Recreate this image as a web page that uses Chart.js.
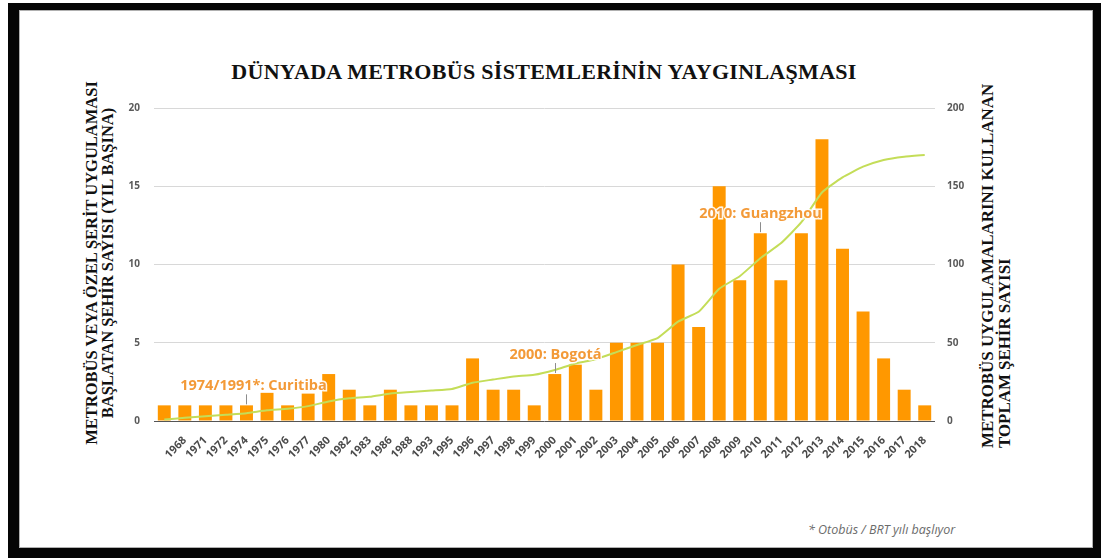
<!DOCTYPE html>
<html>
<head>
<meta charset="utf-8">
<script src="https://cdn.jsdelivr.net/npm/chart.js@4/dist/chart.umd.min.js"></script>
<style>
body{margin:0;width:1101px;height:558px;background:#fff;position:relative;overflow:hidden}
#frame{position:absolute;left:8px;top:3px;width:1093px;height:555px;background:#050505}
#panel{position:absolute;left:19px;top:10px;width:1074px;height:538px;background:#fff;box-shadow:inset 0 0 0 1px #b0b0b0}
#title{position:absolute;left:0;width:1088px;top:58px;text-align:center;font:bold 22px "Liberation Serif",serif;color:#111;line-height:28px;letter-spacing:0.3px}
.axt{position:absolute;width:420px;font:bold 16.5px "Liberation Serif",serif;color:#111;transform:rotate(-90deg);white-space:nowrap}
#ltitle{left:-110px;top:247px;height:32px;line-height:16px;text-align:center}
#rtitle{left:786px;top:221px;height:34px;line-height:17px;text-align:left;font-size:16.9px}
#note{position:absolute;left:808px;top:521px;font:italic 12.5px "Open Sans",sans-serif;color:#6b6b6b}
#c{position:absolute;left:0;top:0}
</style>
</head>
<body>
<div id="frame"></div>
<div id="panel"></div>
<div id="title">DÜNYADA METROBÜS SİSTEMLERİNİN YAYGINLAŞMASI</div>
<div class="axt" id="ltitle">METROBÜS VEYA ÖZEL ŞERİT UYGULAMASI<br>BAŞLATAN ŞEHİR SAYISI (YIL BAŞINA)</div>
<div class="axt" id="rtitle">METROBÜS UYGULAMALARINI KULLANAN<br>TOPLAM ŞEHİR SAYISI</div>
<div id="note">* Otobüs / BRT yılı başlıyor</div>
<canvas id="c" width="1101" height="558"></canvas>
<script>
// yil etiketleri (ilk cubugun etiketi yok)
const years = ['', '1968', '1971', '1972', '1974', '1975', '1976', '1977', '1980', '1982', '1983',
  '1986', '1988', '1993', '1995', '1996', '1997', '1998', '1999', '2000', '2001', '2002', '2003',
  '2004', '2005', '2006', '2007', '2008', '2009', '2010', '2011', '2012', '2013', '2014', '2015',
  '2016', '2017', '2018'];
// yil basina yeni sehir (sol eksen)
const newCities = [1, 1, 1, 1, 1, 1.8, 1, 1.75, 3, 2, 1, 2, 1, 1, 1, 4, 2, 2, 1, 3, 3.6, 2, 5,
  5, 5, 10, 6, 15, 9, 12, 9, 12, 18, 11, 7, 4, 2, 1];
// toplam sehir (sag eksen)
const totalCities = [1, 2, 3, 4, 5, 6.8, 7.8, 9.5, 12.5, 14.5, 15.5, 17.5, 18.5, 19.5, 20.5, 24.5,
  26.5, 28.5, 29.5, 32.6, 36.8, 39.5, 44, 48.6, 53, 63.5, 69.8, 84.5, 92.5, 104, 113.5, 127,
  146, 155.7, 162.5, 166.8, 168.9, 170];
const leftMax = 20;
const rightMax = 200;
const noteYears = ['1974', '2000', '2010'];
const noteTexts = ['1974/1991*: Curitiba', '2000: Bogotá', '2010: Guangzhou'];

const noteShift = [7, 0, 0];
const notes = {
  id: 'notes',
  afterDatasetsDraw(chart) {
    const ctx = chart.ctx;
    const x = chart.scales.x, y = chart.scales.y;
    noteYears.forEach((yr, i) => {
      const idx = years.indexOf(yr);
      const px = Math.round(x.getPixelForValue(idx)) + 0.5;
      const top = y.getPixelForValue(newCities[idx]);
      ctx.save();
      ctx.strokeStyle = '#8c8c8c';
      ctx.lineWidth = 1;
      ctx.beginPath();
      ctx.moveTo(px, top - 1);
      ctx.lineTo(px, top - 11);
      ctx.stroke();
      ctx.font = 'bold 14.5px "Open Sans"';
      ctx.textAlign = 'center';
      ctx.textBaseline = 'middle';
      ctx.lineWidth = 3;
      ctx.strokeStyle = 'rgba(255,255,255,0.9)';
      ctx.strokeText(noteTexts[i], px + noteShift[i], top - 19);
      ctx.fillStyle = '#f39a38';
      ctx.fillText(noteTexts[i], px + noteShift[i], top - 19);
      ctx.restore();
    });
  }
};

const tickFont = {family: 'Open Sans', size: 10, weight: 'bold'};

new Chart(document.getElementById('c'), {
  type: 'bar',
  data: {
    labels: years,
    datasets: [{
      type: 'line',
      data: totalCities,
      yAxisID: 'y2',
      borderColor: '#c4dd58',
      borderWidth: 2,
      pointRadius: 0,
      tension: 0.15,
      order: 0
    }, {
      data: newCities,
      yAxisID: 'y',
      backgroundColor: '#ff9800',
      barPercentage: 0.63,
      categoryPercentage: 1,
      order: 1
    }]
  },
  options: {
    responsive: false,
    animation: false,
    layout: {padding: {top: 108, left: 0, right: 0, bottom: 0}},
    plugins: {legend: {display: false}, tooltip: {enabled: false}, title: {display: false}},
    scales: {
      x: {
        grid: {display: false},
        border: {display: false},
        ticks: {font: {family: 'Open Sans', size: 11, weight: 'bold'}, color: '#4a4a4a',
          minRotation: 45, maxRotation: 45, autoSkip: false, padding: 5},
        afterFit: (s) => { s.height = 137; }
      },
      y: {
        position: 'left',
        min: 0, max: leftMax,
        ticks: {stepSize: 5, font: tickFont, color: '#5a5a5a', padding: 14},
        grid: {drawTicks: false, color: (c) => c.tick && c.tick.value === 0 ? '#555' : '#d8d8d8', lineWidth: 1},
        border: {display: false},
        afterFit: (s) => { s.width = 154; }
      },
      y2: {
        position: 'right',
        min: 0, max: rightMax,
        ticks: {stepSize: 50, font: tickFont, color: '#5a5a5a', padding: 12},
        grid: {display: false, drawTicks: false},
        border: {display: false},
        afterFit: (s) => { s.width = 166; }
      }
    }
  },
  plugins: [notes]
});
</script>
</body>
</html>
